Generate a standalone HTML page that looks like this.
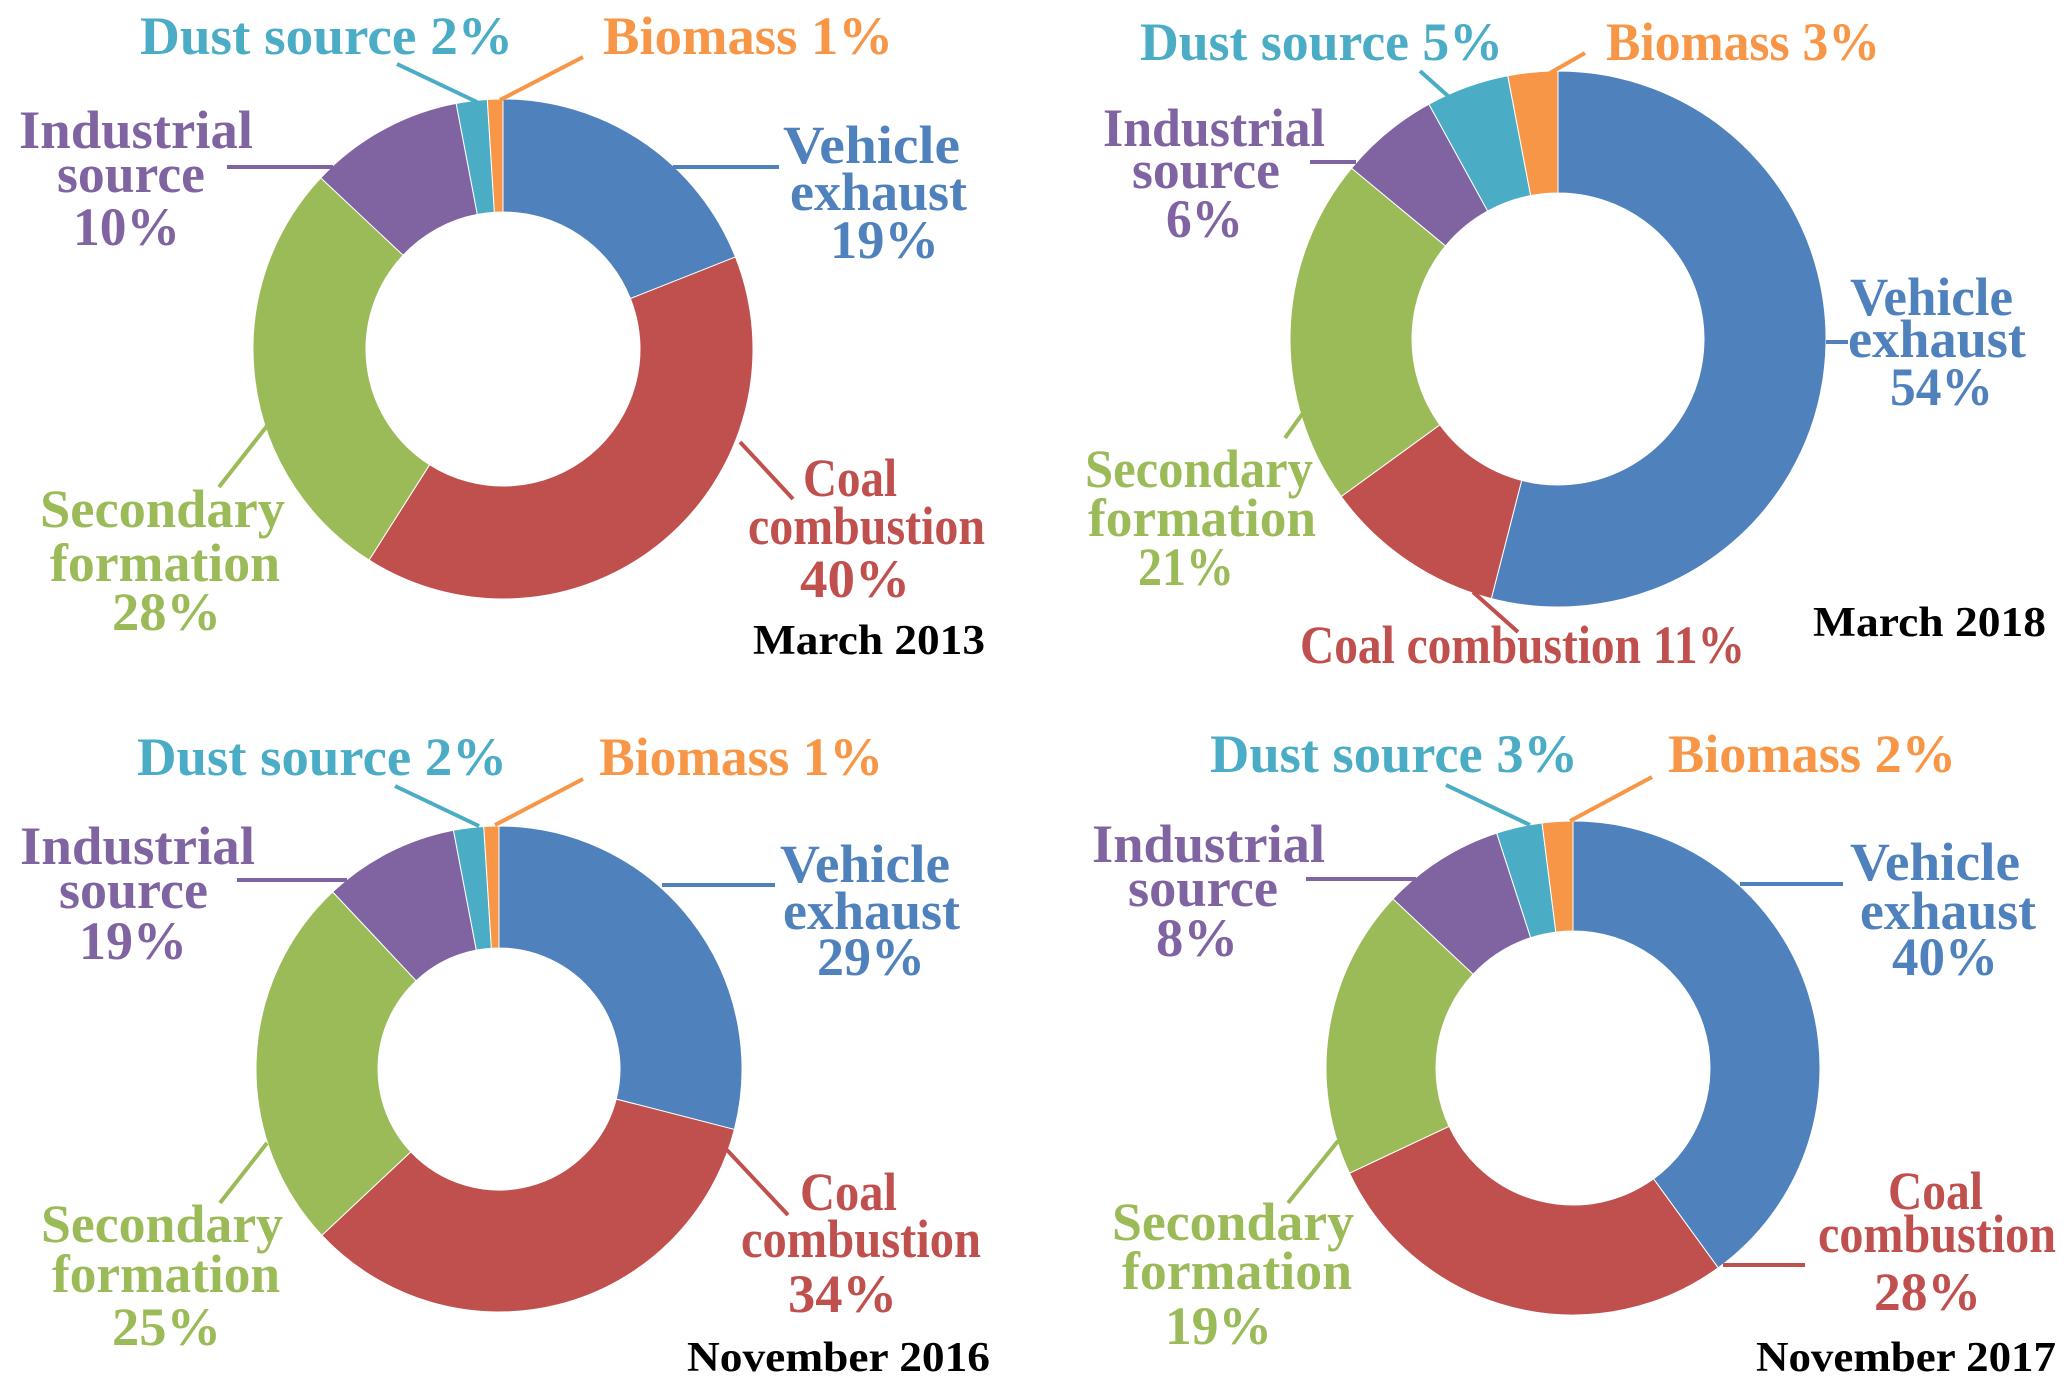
<!DOCTYPE html>
<html><head><meta charset="utf-8"><style>
html,body{margin:0;padding:0;background:#fff}
svg text{font-family:"Liberation Serif",serif;font-weight:bold}
</style></head><body>
<svg id="root" width="2067" height="1384" viewBox="0 0 2067 1384" xmlns="http://www.w3.org/2000/svg">
<rect width="2067" height="1384" fill="#fff"/>
<g id="arcs"></g>
<g stroke-width="4" fill="none">
<line x1="397" y1="64" x2="477" y2="102" stroke="#4bacc6"/>
<line x1="583" y1="57" x2="500" y2="100" stroke="#f79646"/>
<line x1="227" y1="167" x2="333" y2="167" stroke="#8064a2"/>
<line x1="673" y1="167" x2="779" y2="167" stroke="#4f81bd"/>
<line x1="740" y1="442" x2="793" y2="499" stroke="#c0504d"/>
<line x1="267" y1="426" x2="219" y2="487" stroke="#9bbb59"/>
<line x1="1420" y1="71" x2="1448" y2="96" stroke="#4bacc6"/>
<line x1="1585" y1="53" x2="1550" y2="73" stroke="#f79646"/>
<line x1="1310" y1="162" x2="1356" y2="162" stroke="#8064a2"/>
<line x1="1826" y1="342" x2="1848" y2="342" stroke="#4f81bd"/>
<line x1="1303" y1="413" x2="1285" y2="438" stroke="#9bbb59"/>
<line x1="1473" y1="592" x2="1518" y2="632" stroke="#c0504d"/>
<line x1="395" y1="786" x2="479" y2="826" stroke="#4bacc6"/>
<line x1="583" y1="779" x2="495" y2="825" stroke="#f79646"/>
<line x1="237" y1="880" x2="347" y2="880" stroke="#8064a2"/>
<line x1="662" y1="885" x2="775" y2="885" stroke="#4f81bd"/>
<line x1="727" y1="1150" x2="788" y2="1215" stroke="#c0504d"/>
<line x1="267" y1="1143" x2="220" y2="1203" stroke="#9bbb59"/>
<line x1="1446" y1="785" x2="1530" y2="825" stroke="#4bacc6"/>
<line x1="1652" y1="777" x2="1570" y2="821" stroke="#f79646"/>
<line x1="1306" y1="879" x2="1416" y2="879" stroke="#8064a2"/>
<line x1="1740" y1="884" x2="1843" y2="884" stroke="#4f81bd"/>
<line x1="1723" y1="1265" x2="1805" y2="1265" stroke="#c0504d"/>
<line x1="1338" y1="1141" x2="1288" y2="1203" stroke="#9bbb59"/>
</g>
<g font-size="54">
<text x="140" y="54" textLength="373" lengthAdjust="spacingAndGlyphs" fill="#4bacc6">Dust source 2%</text>
<text x="603" y="54" textLength="290" lengthAdjust="spacingAndGlyphs" fill="#f79646">Biomass 1%</text>
<g fill="#8064a2">
<text x="19" y="148" textLength="234" lengthAdjust="spacingAndGlyphs">Industrial</text>
<text x="57" y="192" textLength="148" lengthAdjust="spacingAndGlyphs">source</text>
<text x="73" y="245" textLength="107" lengthAdjust="spacingAndGlyphs">10%</text></g>
<g fill="#4f81bd">
<text x="783" y="163" textLength="177" lengthAdjust="spacingAndGlyphs">Vehicle</text>
<text x="790" y="210" textLength="177" lengthAdjust="spacingAndGlyphs">exhaust</text>
<text x="830" y="258" textLength="109" lengthAdjust="spacingAndGlyphs">19%</text></g>
<g fill="#c0504d">
<text x="803" y="496" textLength="94" lengthAdjust="spacingAndGlyphs">Coal</text>
<text x="748" y="544" textLength="237" lengthAdjust="spacingAndGlyphs">combustion</text>
<text x="800" y="597" textLength="110" lengthAdjust="spacingAndGlyphs">40%</text></g>
<g fill="#9bbb59">
<text x="40" y="527" textLength="245" lengthAdjust="spacingAndGlyphs">Secondary</text>
<text x="50" y="581" textLength="230" lengthAdjust="spacingAndGlyphs">formation</text>
<text x="112" y="630" textLength="109" lengthAdjust="spacingAndGlyphs">28%</text></g>
<text x="753" y="654" font-size="42" textLength="232" lengthAdjust="spacingAndGlyphs" fill="#000">March 2013</text>
<text x="1140" y="60" textLength="363" lengthAdjust="spacingAndGlyphs" fill="#4bacc6">Dust source 5%</text>
<text x="1606" y="60" textLength="274" lengthAdjust="spacingAndGlyphs" fill="#f79646">Biomass 3%</text>
<g fill="#8064a2">
<text x="1103" y="146" textLength="222" lengthAdjust="spacingAndGlyphs">Industrial</text>
<text x="1132" y="188" textLength="148" lengthAdjust="spacingAndGlyphs">source</text>
<text x="1166" y="237" textLength="77" lengthAdjust="spacingAndGlyphs">6%</text></g>
<g fill="#4f81bd">
<text x="1850" y="315" textLength="163" lengthAdjust="spacingAndGlyphs">Vehicle</text>
<text x="1848" y="357" textLength="178" lengthAdjust="spacingAndGlyphs">exhaust</text>
<text x="1890" y="405" textLength="103" lengthAdjust="spacingAndGlyphs">54%</text></g>
<g fill="#9bbb59">
<text x="1085" y="487" textLength="228" lengthAdjust="spacingAndGlyphs">Secondary</text>
<text x="1088" y="536" textLength="228" lengthAdjust="spacingAndGlyphs">formation</text>
<text x="1138" y="585" textLength="96" lengthAdjust="spacingAndGlyphs">21%</text></g>
<text x="1300" y="663" textLength="445" lengthAdjust="spacingAndGlyphs" fill="#c0504d">Coal combustion 11%</text>
<text x="1813" y="636" font-size="42" textLength="233" lengthAdjust="spacingAndGlyphs" fill="#000">March 2018</text>
<text x="137" y="775" textLength="370" lengthAdjust="spacingAndGlyphs" fill="#4bacc6">Dust source 2%</text>
<text x="599" y="775" textLength="284" lengthAdjust="spacingAndGlyphs" fill="#f79646">Biomass 1%</text>
<g fill="#8064a2">
<text x="20" y="864" textLength="235" lengthAdjust="spacingAndGlyphs">Industrial</text>
<text x="59" y="908" textLength="149" lengthAdjust="spacingAndGlyphs">source</text>
<text x="79" y="959" textLength="108" lengthAdjust="spacingAndGlyphs">19%</text></g>
<g fill="#4f81bd">
<text x="780" y="882" textLength="170" lengthAdjust="spacingAndGlyphs">Vehicle</text>
<text x="783" y="929" textLength="177" lengthAdjust="spacingAndGlyphs">exhaust</text>
<text x="817" y="975" textLength="108" lengthAdjust="spacingAndGlyphs">29%</text></g>
<g fill="#c0504d">
<text x="800" y="1210" textLength="97" lengthAdjust="spacingAndGlyphs">Coal</text>
<text x="741" y="1257" textLength="240" lengthAdjust="spacingAndGlyphs">combustion</text>
<text x="788" y="1312" textLength="109" lengthAdjust="spacingAndGlyphs">34%</text></g>
<g fill="#9bbb59">
<text x="41" y="1242" textLength="242" lengthAdjust="spacingAndGlyphs">Secondary</text>
<text x="52" y="1292" textLength="228" lengthAdjust="spacingAndGlyphs">formation</text>
<text x="112" y="1345" textLength="109" lengthAdjust="spacingAndGlyphs">25%</text></g>
<text x="687" y="1371" font-size="42" textLength="303" lengthAdjust="spacingAndGlyphs" fill="#000">November 2016</text>
<text x="1210" y="772" textLength="368" lengthAdjust="spacingAndGlyphs" fill="#4bacc6">Dust source 3%</text>
<text x="1668" y="772" textLength="288" lengthAdjust="spacingAndGlyphs" fill="#f79646">Biomass 2%</text>
<g fill="#8064a2">
<text x="1092" y="862" textLength="233" lengthAdjust="spacingAndGlyphs">Industrial</text>
<text x="1128" y="906" textLength="150" lengthAdjust="spacingAndGlyphs">source</text>
<text x="1156" y="956" textLength="82" lengthAdjust="spacingAndGlyphs">8%</text></g>
<g fill="#4f81bd">
<text x="1850" y="880" textLength="170" lengthAdjust="spacingAndGlyphs">Vehicle</text>
<text x="1860" y="929" textLength="176" lengthAdjust="spacingAndGlyphs">exhaust</text>
<text x="1892" y="975" textLength="106" lengthAdjust="spacingAndGlyphs">40%</text></g>
<g fill="#c0504d">
<text x="1888" y="1209" textLength="95" lengthAdjust="spacingAndGlyphs">Coal</text>
<text x="1818" y="1252" textLength="238" lengthAdjust="spacingAndGlyphs">combustion</text>
<text x="1874" y="1310" textLength="107" lengthAdjust="spacingAndGlyphs">28%</text></g>
<g fill="#9bbb59">
<text x="1112" y="1240" textLength="242" lengthAdjust="spacingAndGlyphs">Secondary</text>
<text x="1122" y="1289" textLength="230" lengthAdjust="spacingAndGlyphs">formation</text>
<text x="1165" y="1344" textLength="107" lengthAdjust="spacingAndGlyphs">19%</text></g>
<text x="1756" y="1371" font-size="42" textLength="300" lengthAdjust="spacingAndGlyphs" fill="#000">November 2017</text>
</g>
</svg>
<script>
const categories = ["vehicle-exhaust","coal-combustion","secondary-formation","industrial-source","dust-source","biomass"];
const colors = ["#4f81bd","#c0504d","#9bbb59","#8064a2","#4bacc6","#f79646"];
const valuesMar2013 = [19,40,28,10,2,1];
const valuesMar2018 = [54,11,21,6,5,3];
const valuesNov2016 = [29,34,25,9,2,1];
const valuesNov2017 = [40,28,19,8,3,2];

const charts = [
  {id:"mar-2013", vals:valuesMar2013, cx:503, cy:349, ro:250, ri:137},
  {id:"mar-2018", vals:valuesMar2018, cx:1558, cy:339, ro:268, ri:146},
  {id:"nov-2016", vals:valuesNov2016, cx:499, cy:1069, ro:243, ri:121},
  {id:"nov-2017", vals:valuesNov2017, cx:1573, cy:1068, ro:247, ri:137}
];
const NS = "http://www.w3.org/2000/svg";
const g = document.getElementById("arcs");
function pt(cx,cy,r,a){return [cx+r*Math.sin(a), cy-r*Math.cos(a)];}
charts.forEach(c=>{
  const total = c.vals.reduce((s,v)=>s+v,0);
  let a0 = 0;
  c.vals.forEach((v,i)=>{
    const a1 = a0 + v/total*2*Math.PI;
    const large = (a1-a0) > Math.PI ? 1 : 0;
    const p1=pt(c.cx,c.cy,c.ro,a0), p2=pt(c.cx,c.cy,c.ro,a1);
    const p3=pt(c.cx,c.cy,c.ri,a1), p4=pt(c.cx,c.cy,c.ri,a0);
    const d=`M${p1[0]},${p1[1]} A${c.ro},${c.ro} 0 ${large} 1 ${p2[0]},${p2[1]} L${p3[0]},${p3[1]} A${c.ri},${c.ri} 0 ${large} 0 ${p4[0]},${p4[1]} Z`;
    const path=document.createElementNS(NS,"path");
    path.setAttribute("d",d);
    path.setAttribute("fill",colors[i]);
    path.setAttribute("stroke","#fff");
    path.setAttribute("stroke-width","1");
    
    
    g.appendChild(path);
    a0 = a1;
  });
});
</script>
</body></html>
